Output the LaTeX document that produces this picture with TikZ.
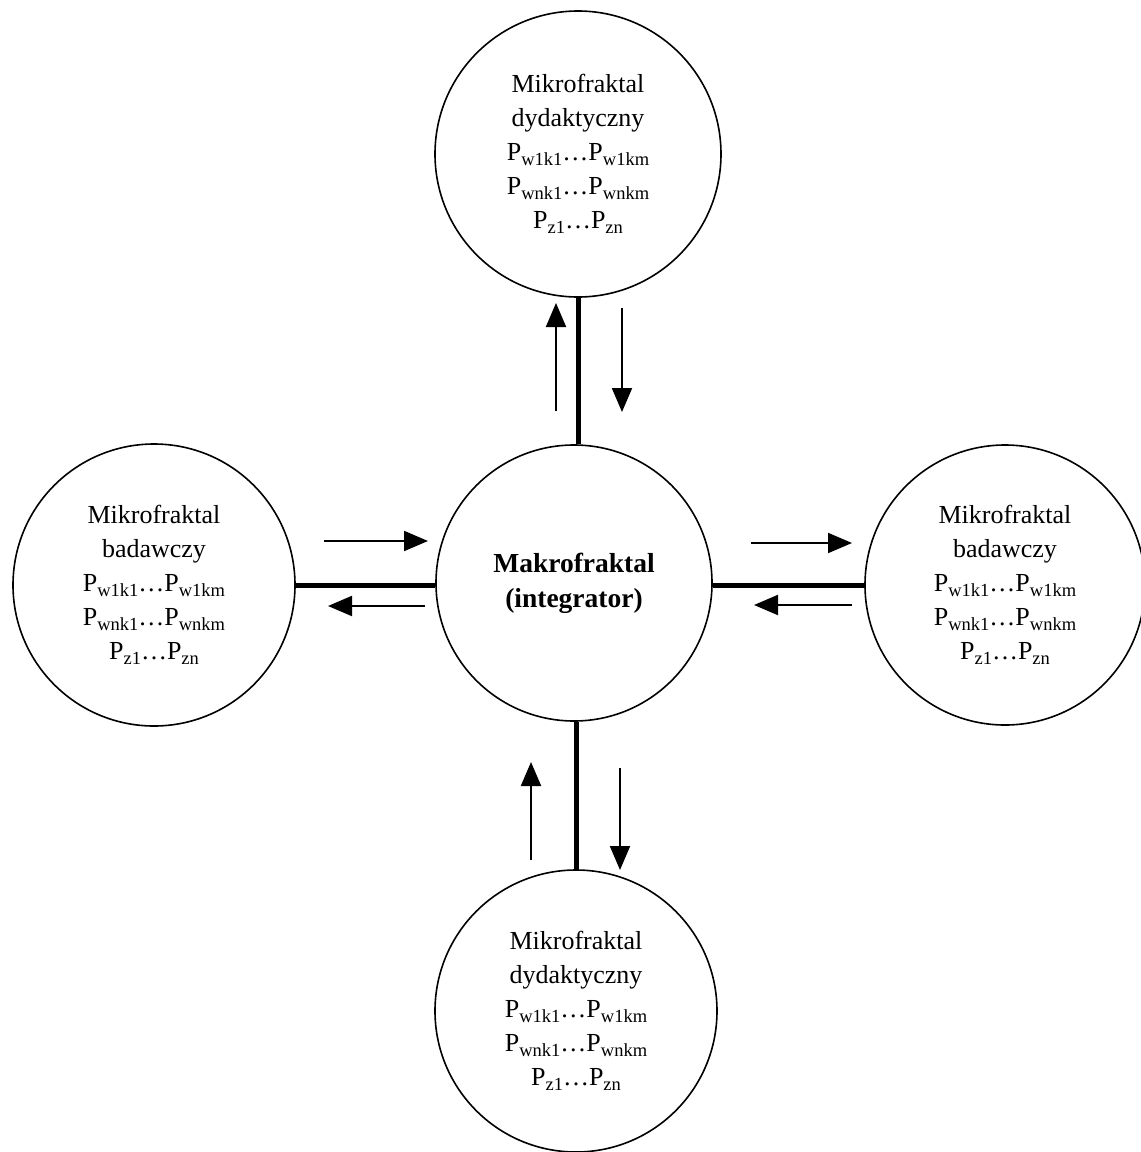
\documentclass[tikz,border=0pt]{standalone}
\usepackage{fontspec}
\setmainfont{Liberation Serif}
\usetikzlibrary{arrows.meta}
\newcommand\psub[1]{\raisebox{-5pt}{\fontsize{18.5}{18.5}\selectfont #1}}
\begin{document}
\begin{tikzpicture}[x=1pt,y=-1pt,
  frac/.style={circle,draw,line width=1.6pt,inner sep=0pt,align=center,font=\fontsize{26}{34}\selectfont},
  bar/.style={line width=5pt},
  flow/.style={line width=2pt,-{Triangle[length=24pt,width=20pt]}}]
\path[use as bounding box] (0,0) rectangle (1141,1152);
\node[frac,minimum size=276pt,font=\fontsize{27.5}{35}\selectfont\bfseries] (c) at (574,583) {Makrofraktal\\(integrator)};
\node[frac,minimum size=286pt] (t) at (578,154) {Mikrofraktal\\dydaktyczny\\P\psub{w1k1}\ldots P\psub{w1km}\\P\psub{wnk1}\ldots P\psub{wnkm}\\P\psub{z1}\ldots P\psub{zn}};
\node[frac,minimum size=282pt] (l) at (154,585) {Mikrofraktal\\badawczy\\P\psub{w1k1}\ldots P\psub{w1km}\\P\psub{wnk1}\ldots P\psub{wnkm}\\P\psub{z1}\ldots P\psub{zn}};
\node[frac,minimum size=280pt] (r) at (1005,585) {Mikrofraktal\\badawczy\\P\psub{w1k1}\ldots P\psub{w1km}\\P\psub{wnk1}\ldots P\psub{wnkm}\\P\psub{z1}\ldots P\psub{zn}};
\node[frac,minimum size=282pt] (b) at (576,1011) {Mikrofraktal\\dydaktyczny\\P\psub{w1k1}\ldots P\psub{w1km}\\P\psub{wnk1}\ldots P\psub{wnkm}\\P\psub{z1}\ldots P\psub{zn}};
\draw[bar] (t.south) -- (t.south |- c.north);
\draw[bar] (b.north) -- (b.north |- c.south);
\draw[bar] (l.east) -- (l.east -| c.west);
\draw[bar] (r.west) -- (r.west -| c.east);
% top arrows
\coordinate (tua) at (556,411); \coordinate (tub) at (556,303);
\coordinate (tda) at (622,308); \coordinate (tdb) at (622,412);
\draw[flow] (tua) -- (tub);
\draw[flow] (tda) -- (tdb);
% bottom arrows
\coordinate (bua) at (531,860); \coordinate (bub) at (531,762);
\coordinate (bda) at (620,768); \coordinate (bdb) at (620,870);
\draw[flow] (bua) -- (bub);
\draw[flow] (bda) -- (bdb);
% left arrows
\coordinate (lra) at (324,541); \coordinate (lrb) at (428,541);
\coordinate (lla) at (425,606); \coordinate (llb) at (328,606);
\draw[flow] (lra) -- (lrb);
\draw[flow] (lla) -- (llb);
% right arrows
\coordinate (rra) at (751,543); \coordinate (rrb) at (852,543);
\coordinate (rla) at (852,605); \coordinate (rlb) at (754,605);
\draw[flow] (rra) -- (rrb);
\draw[flow] (rla) -- (rlb);
\end{tikzpicture}
\end{document}
